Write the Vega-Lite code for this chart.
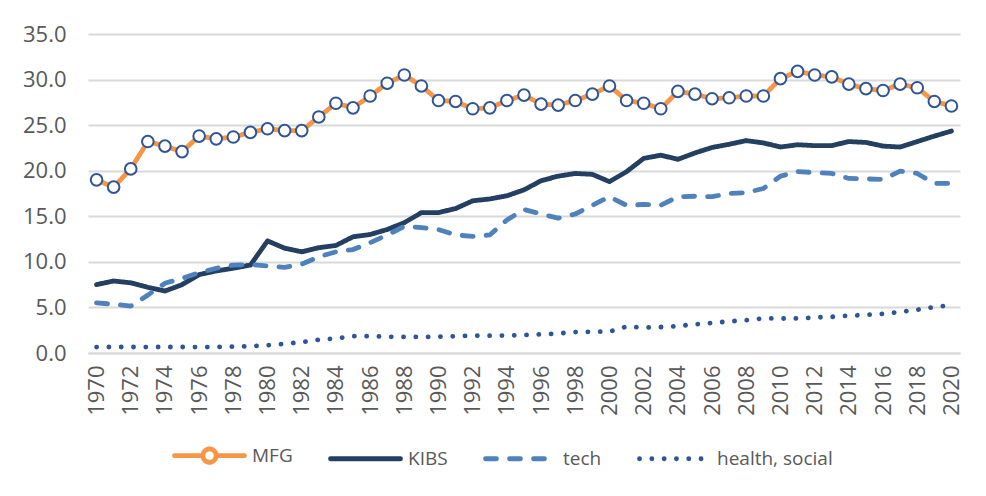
{
  "$schema": "https://vega.github.io/schema/vega-lite/v6.json",
  "width": 872,
  "height": 319,
  "autosize": {"type": "none"},
  "padding": {"left": 88, "top": 34, "right": 26, "bottom": 143},
  "background": "white",
  "config": {
    "view": {"stroke": null},
    "font": "Open Sans",
    "axis": {"labelFont": "Open Sans", "labelFontSize": 22, "labelColor": "#595959", "gridColor": "#D9D9D9", "gridWidth": 2, "domainColor": "#D9D9D9", "domainWidth": 2, "ticks": false, "title": null},
    "legend": {"labelFont": "Open Sans", "labelFontSize": 19, "labelColor": "#595959"}
  },
  "data": {
    "values": [
      {"year": 1970, "series": "MFG", "value": 19.0}, {"year": 1970, "series": "KIBS", "value": 7.5}, {"year": 1970, "series": "tech", "value": 5.5}, {"year": 1970, "series": "health, social", "value": 0.65},
      {"year": 1971, "series": "MFG", "value": 18.2}, {"year": 1971, "series": "KIBS", "value": 7.9}, {"year": 1971, "series": "tech", "value": 5.35}, {"year": 1971, "series": "health, social", "value": 0.66},
      {"year": 1972, "series": "MFG", "value": 20.2}, {"year": 1972, "series": "KIBS", "value": 7.7}, {"year": 1972, "series": "tech", "value": 5.15}, {"year": 1972, "series": "health, social", "value": 0.66},
      {"year": 1973, "series": "MFG", "value": 23.2}, {"year": 1973, "series": "KIBS", "value": 7.2}, {"year": 1973, "series": "tech", "value": 6.35}, {"year": 1973, "series": "health, social", "value": 0.65},
      {"year": 1974, "series": "MFG", "value": 22.7}, {"year": 1974, "series": "KIBS", "value": 6.8}, {"year": 1974, "series": "tech", "value": 7.65}, {"year": 1974, "series": "health, social", "value": 0.66},
      {"year": 1975, "series": "MFG", "value": 22.1}, {"year": 1975, "series": "KIBS", "value": 7.5}, {"year": 1975, "series": "tech", "value": 8.2}, {"year": 1975, "series": "health, social", "value": 0.66},
      {"year": 1976, "series": "MFG", "value": 23.8}, {"year": 1976, "series": "KIBS", "value": 8.6}, {"year": 1976, "series": "tech", "value": 8.8}, {"year": 1976, "series": "health, social", "value": 0.65},
      {"year": 1977, "series": "MFG", "value": 23.5}, {"year": 1977, "series": "KIBS", "value": 9.0}, {"year": 1977, "series": "tech", "value": 9.3}, {"year": 1977, "series": "health, social", "value": 0.66},
      {"year": 1978, "series": "MFG", "value": 23.7}, {"year": 1978, "series": "KIBS", "value": 9.3}, {"year": 1978, "series": "tech", "value": 9.65}, {"year": 1978, "series": "health, social", "value": 0.7},
      {"year": 1979, "series": "MFG", "value": 24.2}, {"year": 1979, "series": "KIBS", "value": 9.65}, {"year": 1979, "series": "tech", "value": 9.7}, {"year": 1979, "series": "health, social", "value": 0.75},
      {"year": 1980, "series": "MFG", "value": 24.6}, {"year": 1980, "series": "KIBS", "value": 12.3}, {"year": 1980, "series": "tech", "value": 9.55}, {"year": 1980, "series": "health, social", "value": 0.85},
      {"year": 1981, "series": "MFG", "value": 24.4}, {"year": 1981, "series": "KIBS", "value": 11.5}, {"year": 1981, "series": "tech", "value": 9.4}, {"year": 1981, "series": "health, social", "value": 1.0},
      {"year": 1982, "series": "MFG", "value": 24.4}, {"year": 1982, "series": "KIBS", "value": 11.1}, {"year": 1982, "series": "tech", "value": 9.75}, {"year": 1982, "series": "health, social", "value": 1.2},
      {"year": 1983, "series": "MFG", "value": 25.9}, {"year": 1983, "series": "KIBS", "value": 11.55}, {"year": 1983, "series": "tech", "value": 10.55}, {"year": 1983, "series": "health, social", "value": 1.45},
      {"year": 1984, "series": "MFG", "value": 27.4}, {"year": 1984, "series": "KIBS", "value": 11.8}, {"year": 1984, "series": "tech", "value": 11.1}, {"year": 1984, "series": "health, social", "value": 1.6},
      {"year": 1985, "series": "MFG", "value": 26.9}, {"year": 1985, "series": "KIBS", "value": 12.75}, {"year": 1985, "series": "tech", "value": 11.35}, {"year": 1985, "series": "health, social", "value": 1.85},
      {"year": 1986, "series": "MFG", "value": 28.2}, {"year": 1986, "series": "KIBS", "value": 13.0}, {"year": 1986, "series": "tech", "value": 12.1}, {"year": 1986, "series": "health, social", "value": 1.85},
      {"year": 1987, "series": "MFG", "value": 29.6}, {"year": 1987, "series": "KIBS", "value": 13.55}, {"year": 1987, "series": "tech", "value": 12.95}, {"year": 1987, "series": "health, social", "value": 1.78},
      {"year": 1988, "series": "MFG", "value": 30.5}, {"year": 1988, "series": "KIBS", "value": 14.3}, {"year": 1988, "series": "tech", "value": 13.9}, {"year": 1988, "series": "health, social", "value": 1.76},
      {"year": 1989, "series": "MFG", "value": 29.3}, {"year": 1989, "series": "KIBS", "value": 15.4}, {"year": 1989, "series": "tech", "value": 13.75}, {"year": 1989, "series": "health, social", "value": 1.76},
      {"year": 1990, "series": "MFG", "value": 27.7}, {"year": 1990, "series": "KIBS", "value": 15.4}, {"year": 1990, "series": "tech", "value": 13.55}, {"year": 1990, "series": "health, social", "value": 1.79},
      {"year": 1991, "series": "MFG", "value": 27.6}, {"year": 1991, "series": "KIBS", "value": 15.85}, {"year": 1991, "series": "tech", "value": 12.95}, {"year": 1991, "series": "health, social", "value": 1.84},
      {"year": 1992, "series": "MFG", "value": 26.8}, {"year": 1992, "series": "KIBS", "value": 16.7}, {"year": 1992, "series": "tech", "value": 12.8}, {"year": 1992, "series": "health, social", "value": 1.9},
      {"year": 1993, "series": "MFG", "value": 26.9}, {"year": 1993, "series": "KIBS", "value": 16.9}, {"year": 1993, "series": "tech", "value": 12.95}, {"year": 1993, "series": "health, social", "value": 1.9},
      {"year": 1994, "series": "MFG", "value": 27.7}, {"year": 1994, "series": "KIBS", "value": 17.25}, {"year": 1994, "series": "tech", "value": 14.6}, {"year": 1994, "series": "health, social", "value": 1.92},
      {"year": 1995, "series": "MFG", "value": 28.3}, {"year": 1995, "series": "KIBS", "value": 17.9}, {"year": 1995, "series": "tech", "value": 15.75}, {"year": 1995, "series": "health, social", "value": 1.97},
      {"year": 1996, "series": "MFG", "value": 27.3}, {"year": 1996, "series": "KIBS", "value": 18.9}, {"year": 1996, "series": "tech", "value": 15.25}, {"year": 1996, "series": "health, social", "value": 2.05},
      {"year": 1997, "series": "MFG", "value": 27.2}, {"year": 1997, "series": "KIBS", "value": 19.4}, {"year": 1997, "series": "tech", "value": 14.8}, {"year": 1997, "series": "health, social", "value": 2.15},
      {"year": 1998, "series": "MFG", "value": 27.7}, {"year": 1998, "series": "KIBS", "value": 19.7}, {"year": 1998, "series": "tech", "value": 15.25}, {"year": 1998, "series": "health, social", "value": 2.3},
      {"year": 1999, "series": "MFG", "value": 28.4}, {"year": 1999, "series": "KIBS", "value": 19.6}, {"year": 1999, "series": "tech", "value": 16.2}, {"year": 1999, "series": "health, social", "value": 2.33},
      {"year": 2000, "series": "MFG", "value": 29.3}, {"year": 2000, "series": "KIBS", "value": 18.8}, {"year": 2000, "series": "tech", "value": 17.15}, {"year": 2000, "series": "health, social", "value": 2.35},
      {"year": 2001, "series": "MFG", "value": 27.7}, {"year": 2001, "series": "KIBS", "value": 19.9}, {"year": 2001, "series": "tech", "value": 16.2}, {"year": 2001, "series": "health, social", "value": 2.9},
      {"year": 2002, "series": "MFG", "value": 27.4}, {"year": 2002, "series": "KIBS", "value": 21.35}, {"year": 2002, "series": "tech", "value": 16.3}, {"year": 2002, "series": "health, social", "value": 2.8},
      {"year": 2003, "series": "MFG", "value": 26.8}, {"year": 2003, "series": "KIBS", "value": 21.7}, {"year": 2003, "series": "tech", "value": 16.2}, {"year": 2003, "series": "health, social", "value": 2.85},
      {"year": 2004, "series": "MFG", "value": 28.7}, {"year": 2004, "series": "KIBS", "value": 21.25}, {"year": 2004, "series": "tech", "value": 17.15}, {"year": 2004, "series": "health, social", "value": 2.96},
      {"year": 2005, "series": "MFG", "value": 28.4}, {"year": 2005, "series": "KIBS", "value": 21.95}, {"year": 2005, "series": "tech", "value": 17.2}, {"year": 2005, "series": "health, social", "value": 3.15},
      {"year": 2006, "series": "MFG", "value": 27.9}, {"year": 2006, "series": "KIBS", "value": 22.55}, {"year": 2006, "series": "tech", "value": 17.15}, {"year": 2006, "series": "health, social", "value": 3.3},
      {"year": 2007, "series": "MFG", "value": 28.0}, {"year": 2007, "series": "KIBS", "value": 22.9}, {"year": 2007, "series": "tech", "value": 17.5}, {"year": 2007, "series": "health, social", "value": 3.47},
      {"year": 2008, "series": "MFG", "value": 28.2}, {"year": 2008, "series": "KIBS", "value": 23.3}, {"year": 2008, "series": "tech", "value": 17.6}, {"year": 2008, "series": "health, social", "value": 3.6},
      {"year": 2009, "series": "MFG", "value": 28.2}, {"year": 2009, "series": "KIBS", "value": 23.05}, {"year": 2009, "series": "tech", "value": 18.05}, {"year": 2009, "series": "health, social", "value": 3.8},
      {"year": 2010, "series": "MFG", "value": 30.1}, {"year": 2010, "series": "KIBS", "value": 22.6}, {"year": 2010, "series": "tech", "value": 19.4}, {"year": 2010, "series": "health, social", "value": 3.78},
      {"year": 2011, "series": "MFG", "value": 30.9}, {"year": 2011, "series": "KIBS", "value": 22.85}, {"year": 2011, "series": "tech", "value": 19.9}, {"year": 2011, "series": "health, social", "value": 3.8},
      {"year": 2012, "series": "MFG", "value": 30.5}, {"year": 2012, "series": "KIBS", "value": 22.75}, {"year": 2012, "series": "tech", "value": 19.8}, {"year": 2012, "series": "health, social", "value": 3.9},
      {"year": 2013, "series": "MFG", "value": 30.3}, {"year": 2013, "series": "KIBS", "value": 22.75}, {"year": 2013, "series": "tech", "value": 19.7}, {"year": 2013, "series": "health, social", "value": 3.97},
      {"year": 2014, "series": "MFG", "value": 29.5}, {"year": 2014, "series": "KIBS", "value": 23.2}, {"year": 2014, "series": "tech", "value": 19.15}, {"year": 2014, "series": "health, social", "value": 4.1},
      {"year": 2015, "series": "MFG", "value": 29.0}, {"year": 2015, "series": "KIBS", "value": 23.1}, {"year": 2015, "series": "tech", "value": 19.1}, {"year": 2015, "series": "health, social", "value": 4.18},
      {"year": 2016, "series": "MFG", "value": 28.8}, {"year": 2016, "series": "KIBS", "value": 22.7}, {"year": 2016, "series": "tech", "value": 19.05}, {"year": 2016, "series": "health, social", "value": 4.3},
      {"year": 2017, "series": "MFG", "value": 29.5}, {"year": 2017, "series": "KIBS", "value": 22.6}, {"year": 2017, "series": "tech", "value": 19.95}, {"year": 2017, "series": "health, social", "value": 4.5},
      {"year": 2018, "series": "MFG", "value": 29.1}, {"year": 2018, "series": "KIBS", "value": 23.2}, {"year": 2018, "series": "tech", "value": 19.7}, {"year": 2018, "series": "health, social", "value": 4.75},
      {"year": 2019, "series": "MFG", "value": 27.6}, {"year": 2019, "series": "KIBS", "value": 23.8}, {"year": 2019, "series": "tech", "value": 18.6}, {"year": 2019, "series": "health, social", "value": 5.05},
      {"year": 2020, "series": "MFG", "value": 27.1}, {"year": 2020, "series": "KIBS", "value": 24.35}, {"year": 2020, "series": "tech", "value": 18.6}, {"year": 2020, "series": "health, social", "value": 5.25}
    ]
  },
  "encoding": {
    "x": {
      "field": "year",
      "type": "ordinal",
      "scale": {"type": "point", "padding": 0.5},
      "axis": {"labelAngle": -90, "labelPadding": 12, "values": [1970, 1972, 1974, 1976, 1978, 1980, 1982, 1984, 1986, 1988, 1990, 1992, 1994, 1996, 1998, 2000, 2002, 2004, 2006, 2008, 2010, 2012, 2014, 2016, 2018, 2020], "grid": false, "domain": true}
    },
    "y": {
      "field": "value",
      "type": "quantitative",
      "scale": {"domain": [0, 35]},
      "axis": {"values": [0, 5, 10, 15, 20, 25, 30, 35], "format": ".1f", "domain": false, "labelPadding": 22}
    }
  },
  "layer": [
    {
      "mark": {"type": "line", "strokeWidth": 4.8, "strokeCap": "round", "strokeJoin": "round"},
      "encoding": {
        "color": {
          "field": "series",
          "type": "nominal",
          "sort": ["MFG", "KIBS", "tech", "health, social"],
          "scale": {"domain": ["MFG", "KIBS", "tech", "health, social"], "range": ["#F79646", "#243F62", "#4F81BD", "#2F5597"]},
          "legend": {
            "orient": "none",
            "legendX": 84,
            "legendY": 384,
            "padding": 0,
            "direction": "horizontal",
            "title": null,
            "symbolSize": 4900,
            "symbolStrokeWidth": 4.8,
            "labelOffset": 5,
            "columnPadding": 27,
            "encode": {
              "symbols": {
                "update": {
                  "shape": {"signal": "datum.value === 'MFG' ? 'M-1,0H-0.19M0.19,0H1M-0.19,0A0.19,0.19 0 1 0 0.19,0A0.19,0.19 0 1 0 -0.19,0' : 'stroke'"},
                  "fill": {"signal": "datum.value === 'MFG' ? 'white' : 'transparent'"},
                  "strokeCap": {"value": "round"}
                }
              }
            }
          }
        },
        "strokeDash": {
          "field": "series",
          "type": "nominal",
          "sort": ["MFG", "KIBS", "tech", "health, social"],
          "scale": {"domain": ["MFG", "KIBS", "tech", "health, social"], "range": [[1, 0], [1, 0], [11, 13], [0.1, 12.2]]},
          "legend": null
        }
      }
    },
    {
      "transform": [{"filter": "datum.series === 'MFG'"}],
      "mark": {"type": "point", "shape": "circle", "filled": true, "fill": "white", "stroke": "#2F5597", "strokeWidth": 2, "size": 135, "opacity": 1}
    }
  ]
}
